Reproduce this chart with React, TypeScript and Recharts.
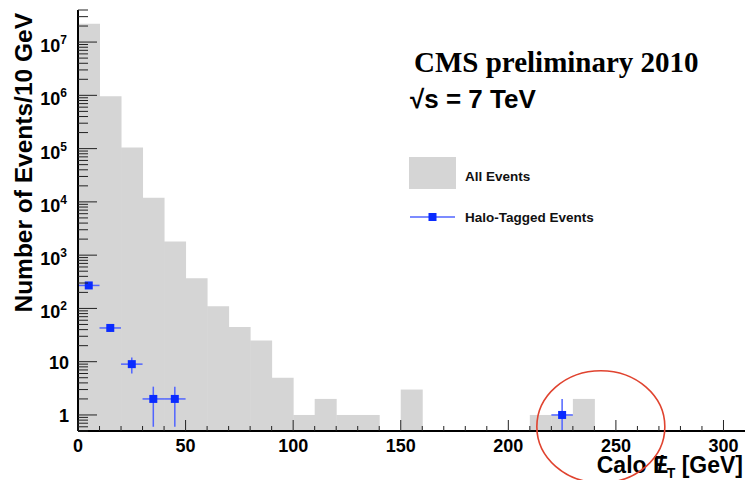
import React from 'react';
import {
  ComposedChart,
  Bar,
  Scatter,
  XAxis,
  YAxis,
  ErrorBar,
  ReferenceDot,
} from 'recharts';

// ---- data ----
const binCenters = [
  5, 15, 25, 35, 45, 55, 65, 75, 85, 95, 105, 115, 125, 135, 145, 155, 165, 175,
  185, 195, 205, 215, 225, 235, 245, 255, 265, 275, 285, 295, 305,
];
const allEvents = [
  2.2e7, 9.6e5, 1.05e5, 1.2e4, 1800, 370, 110, 45, 25, 5, 1, 2, 1, 1, 0, 3, 0,
  0, 0, 0, 0, 1, 1, 2, 0, 0, 0, 0, 0, 0, 0,
];
const haloX = [5, 15, 25, 35, 45, 225];
const haloY = [270, 43, 9, 2, 2, 1];
const haloYErrLow = [16, 6.6, 3, 1.4, 1.4, 0.5];
const haloYErrHigh = [16, 6.6, 3, 1.4, 1.4, 1];
const haloXErr = [5, 5, 5, 5, 5, 5];

const xTicks = [
  0, 10, 20, 30, 40, 50, 60, 70, 80, 90, 100, 110, 120, 130, 140, 150, 160, 170,
  180, 190, 200, 210, 220, 230, 240, 250, 260, 270, 280, 290, 300,
];
const xLabelTicks = [0, 50, 100, 150, 200, 250, 300];
const yDecades = [0.1, 1, 10, 100, 1e3, 1e4, 1e5, 1e6, 1e7];
const yMinorSteps = [1, 2, 3, 4, 5, 6, 7, 8, 9];
const Y_MIN = 0.5;
const Y_MAX = 4e7;

const SERIES_ALL = 'All Events';
const SERIES_HALO = 'Halo-Tagged Events';

// ---- derived tables ----
const histData = binCenters.map((x, i) => ({
  x,
  all: allEvents[i] > 0 ? allEvents[i] : null,
}));
const haloData = haloX.map((x, i) => ({
  x,
  y: haloY[i],
  ex: haloXErr[i],
  ey: [haloYErrLow[i], haloYErrHigh[i]],
}));
const yTicks: number[] = [];
yDecades.forEach((d) =>
  yMinorSteps.forEach((k) => {
    const v = +(d * k).toPrecision(6);
    if (v >= Y_MIN && v <= Y_MAX) yTicks.push(v);
  })
);

const isDecade = (v: number) => {
  const e = Math.log10(v);
  return Math.abs(e - Math.round(e)) < 1e-9;
};

const FONT = '"Liberation Sans", Arial, Helvetica, sans-serif';

// ---- ticks ----
const LeftTick = (props: any) => {
  const { x, y, payload } = props;
  const v = payload.value;
  const major = isDecade(v);
  const e = Math.round(Math.log10(v));
  return (
    <g>
      <line x1={x} x2={x + (major ? 19 : 10)} y1={y} y2={y} stroke="#222" strokeWidth={1} />
      {major && e === 0 && (
        <text x={x - 9} y={y + 7.5} textAnchor="end" fontFamily={FONT} fontWeight="bold" fontSize={18} fill="#000">
          1
        </text>
      )}
      {major && e === 1 && (
        <text x={x - 9} y={y + 7.5} textAnchor="end" fontFamily={FONT} fontWeight="bold" fontSize={18} fill="#000">
          10
        </text>
      )}
      {major && e > 1 && (
        <text x={x - 11} y={y + 10} textAnchor="end" fontFamily={FONT} fontWeight="bold" fontSize={18} fill="#000">
          10
          <tspan dy={-8} fontSize={12}>
            {e}
          </tspan>
        </text>
      )}
    </g>
  );
};

const RightTick = (props: any) => {
  const { x, y, payload } = props;
  const major = isDecade(payload.value);
  return <line x1={x} x2={x - (major ? 19 : 10)} y1={y} y2={y} stroke="#222" strokeWidth={1} />;
};

const BottomTick = (props: any) => {
  const { x, y, payload } = props;
  const major = xLabelTicks.includes(payload.value);
  return (
    <g>
      <line x1={x} x2={x} y1={y} y2={y - (major ? 11 : 5)} stroke="#222" strokeWidth={1} />
      {major && (
        <text x={x} y={y + 21} textAnchor="middle" fontFamily={FONT} fontWeight="bold" fontSize={18} fill="#000">
          {payload.value}
        </text>
      )}
    </g>
  );
};

const TopTick = (props: any) => {
  const { x, y, payload } = props;
  const major = xLabelTicks.includes(payload.value);
  return <line x1={x} x2={x} y1={y} y2={y + (major ? 11 : 5)} stroke="#222" strokeWidth={1} />;
};

// ---- titles ----
const XTitle = (props: any) => {
  const vb = props.viewBox || {};
  const right = vb.x + vb.width - 2;
  const base = vb.y + 42;
  return (
    <text x={right} y={base} textAnchor="end" fontFamily={FONT} fontWeight="bold" fontSize={23} fill="#000">
      Calo E
      <tspan dx="-0.47em">/</tspan>
      <tspan dx="0.2em" dy={5} fontSize={14}>
        T
      </tspan>
      <tspan dy={-5}> [GeV]</tspan>
    </text>
  );
};

const YTitle = (props: any) => {
  const vb = props.viewBox || {};
  const top = vb.y + 3;
  return (
    <text
      transform={`translate(32, ${top}) rotate(-90)`}
      textAnchor="end"
      fontFamily={FONT}
      fontWeight="bold"
      fontSize={24.5}
      fill="#000"
    >
      Number of Events/10 GeV
    </text>
  );
};

const Ellipse = (props: any) => {
  const { cx, cy } = props;
  return <ellipse cx={cx} cy={cy} rx={64} ry={56} fill="none" stroke="#e0432f" strokeWidth={1.6} />;
};

export default function App() {
  return (
    <div style={{ position: 'absolute', left: 0, top: 0, width: 747, height: 480, background: '#fff' }}>
      <ComposedChart
        width={747}
        height={480}
        data={histData}
        margin={{ top: 10, right: 2, bottom: 0, left: 0 }}
        barCategoryGap={0}
        barGap={0}
      >
        <XAxis
          dataKey="x"
          type="number"
          domain={[0, 310]}
          allowDataOverflow
          ticks={xTicks}
          interval={0}
          tickSize={0}
          tickMargin={0}
          tickLine={false}
          tick={<BottomTick />}
          axisLine={{ stroke: '#000', strokeWidth: 2 }}
          height={49}
          label={<XTitle />}
        />
        <XAxis
          xAxisId="top"
          orientation="top"
          dataKey="x"
          type="number"
          domain={[0, 310]}
          allowDataOverflow
          ticks={xTicks}
          interval={0}
          tickSize={0}
          tickMargin={0}
          tickLine={false}
          tick={<TopTick />}
          axisLine={{ stroke: '#000', strokeWidth: 2 }}
          height={0}
        />
        <YAxis
          type="number"
          scale="log"
          domain={[Y_MIN, Y_MAX]}
          allowDataOverflow
          ticks={yTicks}
          interval={0}
          tickSize={0}
          tickMargin={0}
          tickLine={false}
          tick={<LeftTick />}
          axisLine={{ stroke: '#000', strokeWidth: 2 }}
          width={78}
          label={<YTitle />}
        />
        <YAxis
          yAxisId="right"
          orientation="right"
          type="number"
          scale="log"
          domain={[Y_MIN, Y_MAX]}
          allowDataOverflow
          ticks={yTicks}
          interval={0}
          tickSize={0}
          tickMargin={0}
          tickLine={false}
          tick={<RightTick />}
          axisLine={{ stroke: '#000', strokeWidth: 2 }}
          width={0}
        />
        <Bar dataKey="all" name={SERIES_ALL} fill="#d5d5d5" isAnimationActive={false} />
        <Scatter
          name={SERIES_HALO}
          data={haloData}
          dataKey="y"
          fill="#0a2bff"
          shape="square"
          isAnimationActive={false}
        >
          <ErrorBar dataKey="ex" direction="x" width={0} stroke="#5064ff" strokeWidth={1.5} />
          <ErrorBar dataKey="ey" direction="y" width={0} stroke="#5064ff" strokeWidth={1.5} />
        </Scatter>
        <ReferenceDot x={243} y={0.6} ifOverflow="visible" shape={<Ellipse />} />
      </ComposedChart>
      <svg
        width={747}
        height={480}
        style={{ position: 'absolute', left: 0, top: 0, pointerEvents: 'none' }}
      >
        <text x={414} y={72} fontFamily='"Liberation Serif", "Times New Roman", serif' fontWeight="bold" fontSize={29} fill="#000">
          CMS preliminary 2010
        </text>
        <text x={410} y={108} fontFamily={FONT} fontWeight="bold" fontSize={26} fill="#000">
          √s = 7 TeV
        </text>
        <rect x={409} y={157} width={47} height={32} fill="#d5d5d5" />
        <text x={465} y={181} fontFamily={FONT} fontWeight="bold" fontSize={13.5} fill="#111">
          {SERIES_ALL}
        </text>
        <line x1={410} x2={455} y1={217} y2={217} stroke="#5064ff" strokeWidth={1.5} />
        <rect x={428.5} y={213} width={8} height={8} fill="#0a2bff" />
        <text x={465} y={222} fontFamily={FONT} fontWeight="bold" fontSize={13.5} fill="#111">
          {SERIES_HALO}
        </text>
      </svg>
    </div>
  );
}
